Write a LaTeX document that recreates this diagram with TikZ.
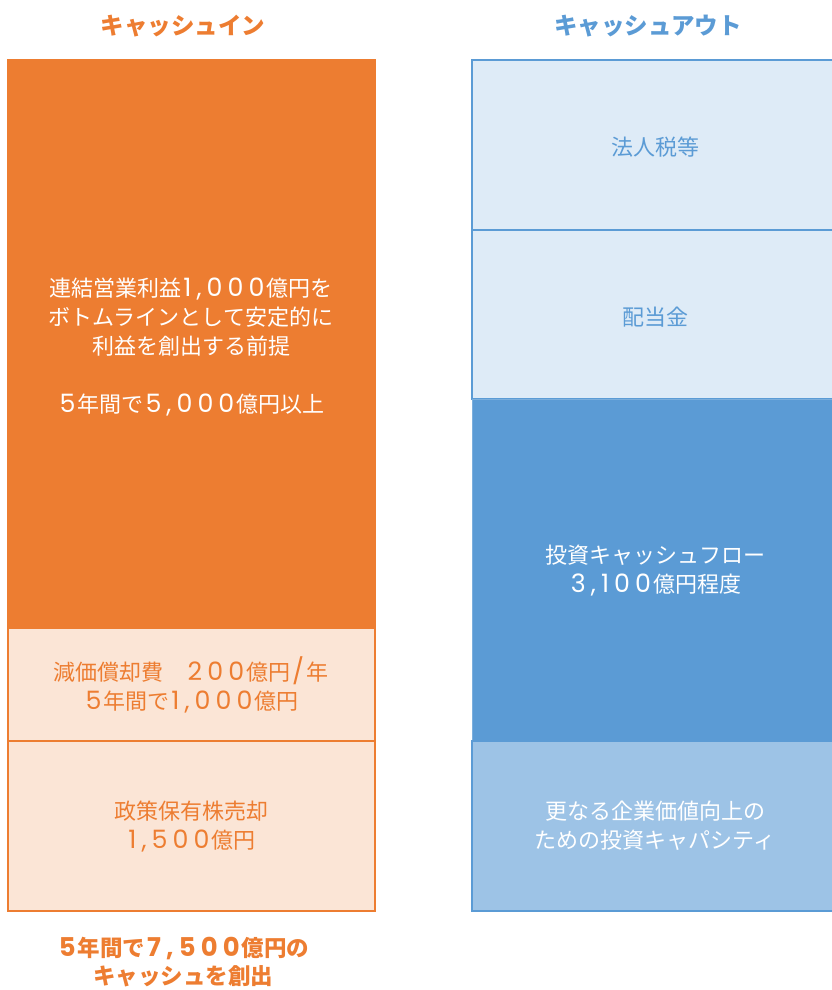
\documentclass[tikz,border=0pt]{standalone}
\usepackage{fontspec}
\setmainfont{Noto Sans CJK JP}
\newfontfamily\digf[Scale=1.15,LetterSpace=20]{Poppins}
\newcommand\nm[1]{{\digf\hspace{0.08em}#1\hspace{0.08em}}}
\definecolor{orng}{HTML}{ED7D31}
\definecolor{lorng}{HTML}{FBE5D6}
\definecolor{blu}{HTML}{5B9BD5}
\definecolor{lblu}{HTML}{DEEBF7}
\definecolor{mblu}{HTML}{9DC3E6}
\begin{document}
\begin{tikzpicture}[x=1pt,y=-1pt,
  ttl/.style={font=\fontsize{23.5}{27}\selectfont\bfseries},
  txt/.style={align=center,font=\fontsize{22}{29}\selectfont},
  ob/.style={fill=orng,draw=orng,line width=1.5pt},
  lob/.style={fill=lorng,draw=orng,line width=2pt},
  lbb/.style={fill=lblu,draw=blu,line width=2pt},
  bb/.style={fill=blu,draw=blu!80,line width=1pt},
  mbb/.style={fill=mblu,draw=blu,line width=2pt}]
\useasboundingbox (0,0) rectangle (832,990);
\clip (0,0) rectangle (832,990);
\node[ttl,text=orng] (tin) at (183,26) {キャッシュイン};
\node[ttl,text=blu] (tout) at (648,26) {キャッシュアウト};
% left column
\draw[ob] (8,60) rectangle (375,628);
\draw[lob] (8,628) rectangle (375,741);
\draw[lob] (8,741) rectangle (375,911);
\node[txt,text=white] (op) at (191,347) {連結営業利益\nm{1,000}億円を\\ボトムラインとして安定的に\\利益を創出する前提\\[29pt]\nm{5}年間で\nm{5,000}億円以上};
\node[txt,text=orng] (dep) at (191,685) {減価償却費\quad \nm{200}億円\nm{/}年\\\nm{5}年間で\nm{1,000}億円};
\node[txt,text=orng] (sale) at (191,827) {政策保有株売却\\\nm{1,500}億円};
\node[ttl,text=orng,align=center,font=\fontsize{22.5}{28}\selectfont\bfseries] (tot) at (183,962) {\nm{5}年間で\nm{7,500}億円の\\キャッシュを創出};
% right column
\draw[lbb] (472,60) rectangle (840,230);
\draw[lbb] (472,230) rectangle (840,399);
\draw[bb] (472,399) rectangle (840,741);
\draw[mbb] (472,741) rectangle (840,911);
\node[txt,text=blu] (tax) at (655,147) {法人税等};
\node[txt,text=blu] (div) at (655,317) {配当金};
\node[txt,text=white] (inv) at (655,571) {投資キャッシュフロー\\\nm{3,100}億円程度};
\node[txt,text=white] (cap) at (655,826) {更なる企業価値向上の\\ための投資キャパシティ};
\end{tikzpicture}
\end{document}
